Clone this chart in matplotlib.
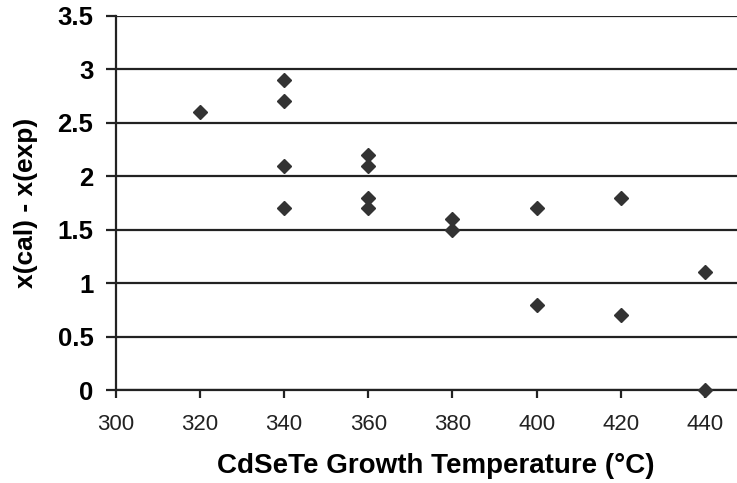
import matplotlib
matplotlib.use('Agg')
import matplotlib.pyplot as plt

# growth temperature (C) and x(cal) - x(exp)
temp = [320, 340, 340, 340, 340, 360, 360, 360, 360, 380, 380, 400, 400, 420, 420, 440, 440]
dx = [2.6, 2.9, 2.7, 2.1, 1.7, 2.2, 2.1, 1.8, 1.7, 1.6, 1.5, 1.7, 0.8, 1.8, 0.7, 1.1, 0.0]

x_ticks = [300, 320, 340, 360, 380, 400, 420, 440]
y_ticks = [0, 0.5, 1, 1.5, 2, 2.5, 3, 3.5]
y_labels = ['0', '0.5', '1', '1.5', '2', '2.5', '3', '3.5']

plt.rcParams['font.family'] = ['Liberation Sans', 'DejaVu Sans']

fig = plt.figure(figsize=(7.37, 4.83), dpi=100)
ax = fig.add_axes([0.157, 0.1925, 0.843, 0.7745])

# horizontal grid lines
for y in y_ticks:
    ax.axhline(y, color='#222222', lw=1.6, zorder=1)

ax.plot(temp, dx, linestyle='none', marker='D', markersize=6.8,
        color='#333333', zorder=3, clip_on=False)

ax.set_xlim(300, 447.6)
ax.set_ylim(0, 3.5)
ax.set_xticks(x_ticks)
ax.set_xticklabels([str(t) for t in x_ticks], fontsize=16, color='#222222')
ax.set_yticks(y_ticks)
ax.set_yticklabels(y_labels, fontsize=18.5, fontweight='bold')

for s in ['top', 'right']:
    ax.spines[s].set_visible(False)
ax.spines['left'].set_color('#222222')
ax.spines['left'].set_linewidth(1.6)
ax.spines['bottom'].set_color('#222222')
ax.spines['bottom'].set_linewidth(1.6)

ax.tick_params(axis='y', length=7, width=1.6, color='#222222', pad=9)
ax.tick_params(axis='x', length=6, width=1.6, color='#222222', pad=11)

ax.set_xlabel('CdSeTe Growth Temperature (°C)', fontsize=20, fontweight='bold', labelpad=13)
ax.xaxis.label.set_x(0.515)
ax.set_ylabel('x(cal) - x(exp)', fontsize=19, fontweight='bold', labelpad=14)

fig.savefig('out.png', dpi=100)
